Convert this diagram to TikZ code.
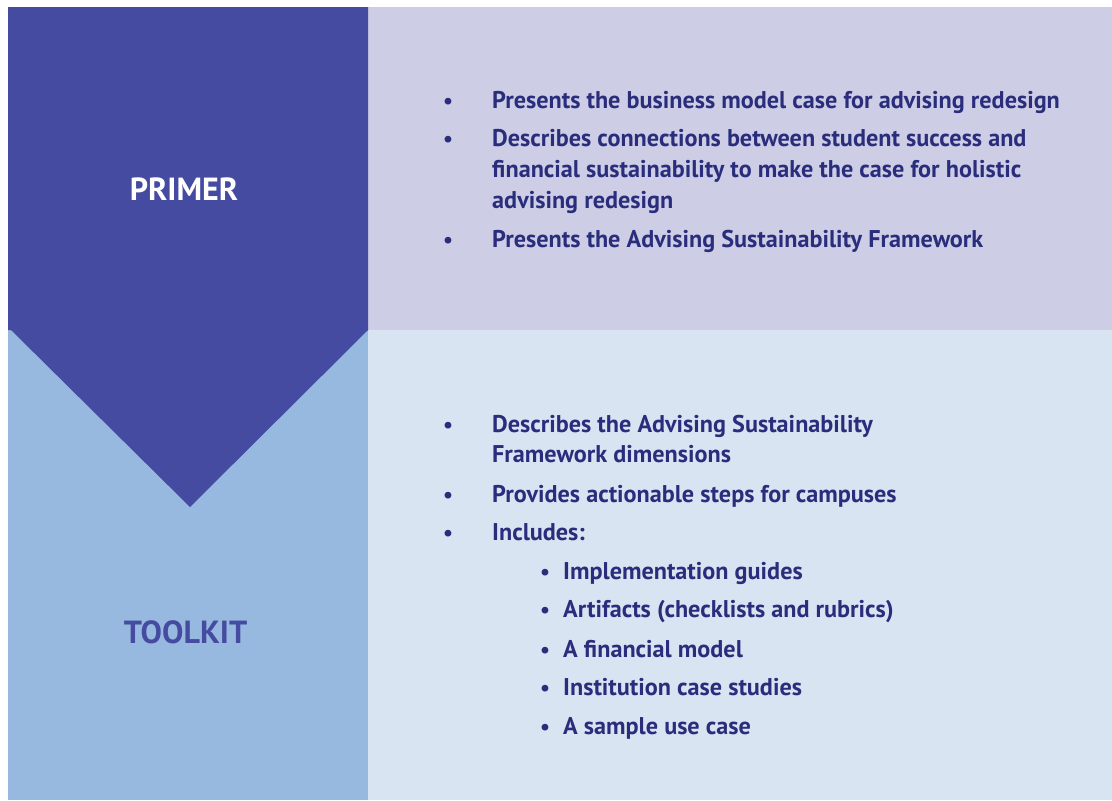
\documentclass[tikz,border=0pt]{standalone}
\usepackage{fontspec}
\setmainfont{PT Sans}
\definecolor{primerblue}{HTML}{454BA0}
\definecolor{toolblue}{HTML}{98B9DF}
\definecolor{primerbg}{HTML}{CDCDE5}
\definecolor{toolbg}{HTML}{D9E4F2}
\definecolor{navy}{HTML}{292D7C}
\begin{document}
\begin{tikzpicture}[x=1pt,y=1pt]
\tikzstyle{every node}+=[inner sep=0pt]
\tikzstyle{title}=[font=\fontsize{32}{38}\selectfont\bfseries]
\tikzstyle{item}=[anchor=base west, text=navy, font=\fontsize{24.2}{31}\selectfont\bfseries]
\tikzstyle{dot}=[anchor=base, text=navy, font=\fontsize{22}{31}\selectfont\bfseries]
\useasboundingbox (0,0) rectangle (1112,-801);

\fill [toolblue] (8,-330) rectangle (368,-800);
\fill [toolbg] (368,-330) rectangle (1112,-800);
\fill [primerbg] (368,-7) rectangle (1112,-330);
\fill [primerblue] (8,-7) -- (368,-7) -- (368,-330) -- (190,-507) -- (11,-330) -- (8,-330) -- cycle;

\node [title, text=white] (primer) at (184,-189) {PRIMER};
\node [title, text=primerblue] (toolkit) at (185.5,-632) {TOOLKIT};

\node [dot] (pd1) at (448,-108) {•};
\node [item] (p1) at (492,-108) {Presents the business model case for advising redesign};
\node [dot] (pd2) at (448,-146) {•};
\node [item] (p2) at (492,-146) {Describes connections between student success and};
\node [item] (p2b) at (492,-177) {financial sustainability to make the case for holistic};
\node [item] (p2c) at (492,-208) {advising redesign};
\node [dot] (pd3) at (448,-247) {•};
\node [item] (p3) at (492,-247) {Presents the Advising Sustainability Framework};

\node [dot] (td1) at (448,-432) {•};
\node [item] (t1) at (492,-432) {Describes the Advising Sustainability};
\node [item] (t1b) at (492,-462) {Framework dimensions};
\node [dot] (td2) at (448,-502) {•};
\node [item] (t2) at (492,-502) {Provides actionable steps for campuses};
\node [dot] (td3) at (448,-540) {•};
\node [item] (t3) at (492,-540) {Includes:};

\node [dot] (sd1) at (545,-579) {•};
\node [item] (s1) at (563,-579) {Implementation guides};
\node [dot] (sd2) at (545,-617) {•};
\node [item] (s2) at (563,-617) {Artifacts (checklists and rubrics)};
\node [dot] (sd3) at (545,-657) {•};
\node [item] (s3) at (563,-657) {A financial model};
\node [dot] (sd4) at (545,-695) {•};
\node [item] (s4) at (563,-695) {Institution case studies};
\node [dot] (sd5) at (545,-734) {•};
\node [item] (s5) at (563,-734) {A sample use case};
\end{tikzpicture}
\end{document}
